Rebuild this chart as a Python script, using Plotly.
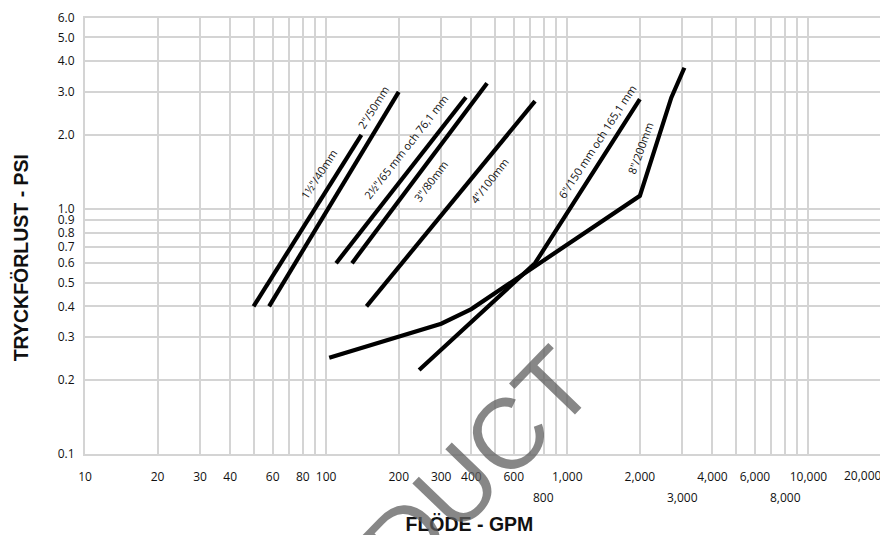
import numpy as np
import plotly.graph_objects as go

# ---------------- data ----------------
# flow (GPM) / pressure loss (PSI) per pipe size
s40_x = [50, 140]
s40_y = [0.4, 2.0]
s50_x = [58, 200]
s50_y = [0.4, 3.0]
s65_x = [110, 380]
s65_y = [0.6, 2.85]
s80_x = [128, 465]
s80_y = [0.6, 3.25]
s100_x = [147, 735]
s100_y = [0.4, 2.75]
s150_x = [243, 735, 2000]
s150_y = [0.22, 0.6, 2.8]
s200_x = [103, 300, 400, 2000, 2700, 3060]
s200_y = [0.247, 0.34, 0.39, 1.13, 2.84, 3.76]

series_names = ['1½"/40mm', '2"/50mm', '2½"/65 mm och 76,1 mm', '3"/80mm',
                '4"/100mm', '6"/150 mm och 165,1 mm', '8"/200mm']

# label anchor points (GPM, PSI) and text angles
label_x = [93, 156, 215, 273, 475, 1330, 2000]
label_y = [1.38, 2.6, 1.79, 1.30, 1.31, 1.88, 1.77]
label_ang = [-57, -58, -52, -53, -52, -57, -70]

x_grid = [10, 20, 30, 40, 50, 60, 70, 80, 90, 100,
          200, 300, 400, 500, 600, 700, 800, 900, 1000,
          2000, 3000, 4000, 5000, 6000, 7000, 8000, 9000, 10000, 20000]
x_labels_row1 = {10: "10", 20: "20", 30: "30", 40: "40", 60: "60", 80: "80",
                 100: "100", 200: "200", 300: "300", 400: "400", 600: "600",
                 1000: "1,000", 2000: "2,000", 4000: "4,000", 6000: "6,000",
                 10000: "10,000"}
x_labels_row2_vals = [800, 3000, 8000]
x_labels_row2_text = ["800", "3,000", "8,000"]
x_edge_val = 20000
x_edge_text = "20,000"

y_ticks = [0.1, 0.2, 0.3, 0.4, 0.5, 0.6, 0.7, 0.8, 0.9, 1.0, 2.0, 3.0, 4.0, 5.0, 6.0]
y_text = ["0.1", "0.2", "0.3", "0.4", "0.5", "0.6", "0.7", "0.8", "0.9",
          "1.0", "2.0", "3.0", "4.0", "5.0", "6.0"]

x_title = "FLÖDE - GPM"
y_title = "TRYCKFÖRLUST - PSI"
watermark = "PRODUCT"

# ---------------- figure ----------------
INK = "#111111"
GRID = "#d4d4d4"
FONT = "Open Sans"
NB = "\u00a0"

fig = go.Figure()
for xs, ys, nm in [(s40_x, s40_y, series_names[0]), (s50_x, s50_y, series_names[1]),
                   (s65_x, s65_y, series_names[2]), (s80_x, s80_y, series_names[3]),
                   (s100_x, s100_y, series_names[4]), (s150_x, s150_y, series_names[5]),
                   (s200_x, s200_y, series_names[6])]:
    fig.add_trace(go.Scatter(x=xs, y=ys, mode="lines", name=nm,
                             line=dict(color="black", width=4.2),
                             showlegend=False, hoverinfo="skip"))

ann = []
for t, lx, ly, a in zip(series_names, label_x, label_y, label_ang):
    ann.append(dict(x=np.log10(lx), y=np.log10(ly), xref="x", yref="y", text=t,
                    textangle=a, showarrow=False, xanchor="center", yanchor="middle",
                    font=dict(family=FONT, size=11, color=INK)))
for v, t in zip(x_labels_row2_vals, x_labels_row2_text):
    ann.append(dict(x=np.log10(v), y=0, xref="x", yref="paper", text=t,
                    yanchor="middle", xanchor="center", yshift=-43, showarrow=False,
                    font=dict(family=FONT, size=12, color=INK)))
ann.append(dict(x=np.log10(x_edge_val), y=0, xref="x", yref="paper", text=x_edge_text,
                yanchor="middle", xanchor="right", yshift=-21, xshift=3, showarrow=False,
                font=dict(family=FONT, size=12, color=INK)))
# watermark
ann.append(dict(x=0.398, y=-0.203, xref="paper", yref="paper", text=watermark,
                textangle=-46, showarrow=False, xanchor="center", yanchor="middle",
                font=dict(family="Liberation Sans", size=100, color="rgba(95,95,95,0.75)")))

# the page body adds an 8px offset, so the figure is sized to the visible area
fig.update_layout(
    width=880, height=527,
    margin=dict(l=77, r=7, t=10, b=81),
    paper_bgcolor="white", plot_bgcolor="white",
    font=dict(family=FONT, size=12, color=INK),
    annotations=ann,
    xaxis=dict(type="log", range=[1, np.log10(20000)], automargin=False,
               tickvals=x_grid,
               ticktext=[x_labels_row1.get(v, "") for v in x_grid],
               showgrid=True, gridcolor=GRID, gridwidth=2,
               showline=True, linecolor=GRID, linewidth=2, mirror=True,
               ticks="outside", ticklen=11, tickcolor="rgba(0,0,0,0)",
               tickangle=0, zeroline=False,
               tickfont=dict(family=FONT, size=12, color=INK),
               title=dict(text="<b>" + x_title + NB * 5 + "</b>", standoff=34,
                          font=dict(family="Liberation Sans", size=19.5, color=INK))),
    yaxis=dict(type="log", range=[-1, np.log10(6)], automargin=False,
               tickvals=y_ticks, ticktext=y_text,
               showgrid=True, gridcolor=GRID, gridwidth=2,
               showline=True, linecolor=GRID, linewidth=2, mirror=True,
               ticks="outside", ticklen=6, tickcolor="rgba(0,0,0,0)",
               zeroline=False,
               tickfont=dict(family=FONT, size=12, color=INK),
               title=dict(text="<b>" + y_title + NB * 8 + "</b>", standoff=24,
                          font=dict(family="Liberation Sans", size=19.5, color=INK))),
)

fig.write_html("out.html")
